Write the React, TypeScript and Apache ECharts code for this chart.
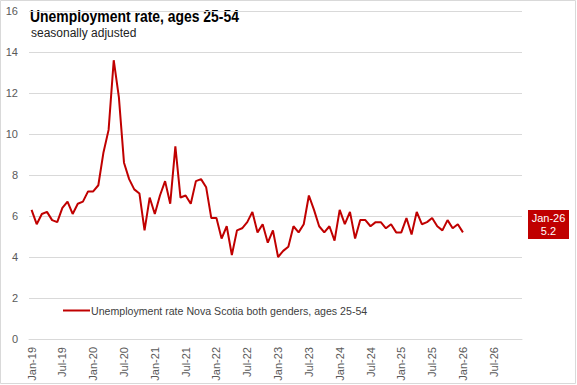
import React, { useEffect, useRef } from "react";
import * as echarts from "echarts";

const years = ["19", "20", "21", "22", "23", "24", "25", "26"];
const monthNames = ["Jan", "Feb", "Mar", "Apr", "May", "Jun", "Jul", "Aug", "Sep", "Oct", "Nov", "Dec"];
const categories: string[] = [];
years.forEach((y) => monthNames.forEach((m) => categories.push(`${m}-${y}`)));

const seriesName = "Unemployment rate Nova Scotia both genders, ages 25-54";
const unemploymentRate = [
  6.3, 5.6, 6.1, 6.2, 5.8, 5.7, 6.4, 6.7, 6.1, 6.6, 6.7, 7.2,
  7.2, 7.5, 9.1, 10.2, 13.6, 11.8, 8.6, 7.8, 7.3, 7.1, 5.3, 6.9,
  6.1, 7.0, 7.7, 6.6, 9.4, 6.9, 7.0, 6.6, 7.7, 7.8, 7.4, 5.9,
  5.9, 4.9, 5.5, 4.1, 5.3, 5.4, 5.7, 6.2, 5.2, 5.6, 4.7, 5.3,
  4.0, 4.3, 4.5, 5.5, 5.2, 5.6, 7.0, 6.3, 5.5, 5.2, 5.5, 4.8,
  6.3, 5.6, 6.2, 4.9, 5.8, 5.8, 5.5, 5.7, 5.7, 5.4, 5.6, 5.2,
  5.2, 5.9, 5.1, 6.2, 5.6, 5.7, 5.9, 5.5, 5.3, 5.8, 5.4, 5.6,
  5.2,
];

const titleText = "Unemployment rate, ages 25-54";
const subtitleText = "seasonally adjusted";
const lastLabel = categories[unemploymentRate.length - 1];
const lastValue = unemploymentRate[unemploymentRate.length - 1].toFixed(1);

export default function App() {
  const ref = useRef<HTMLDivElement>(null);
  useEffect(() => {
    if (!ref.current) return;
    const chart = echarts.init(ref.current, null, { renderer: "svg" });
    chart.setOption({
      animation: false,
      backgroundColor: "#ffffff",
      grid: { left: 29, right: 55, top: 11, bottom: 46, containLabel: false },
      xAxis: {
        type: "category",
        data: categories,
        boundaryGap: true,
        axisTick: { show: false },
        axisLine: { lineStyle: { color: "#d9d9d9", width: 1 } },
        axisLabel: {
          interval: 5,
          rotate: 90,
          fontSize: 11,
          color: "#595959",
          fontFamily: "Liberation Sans, Arial, sans-serif",
          margin: 8,
        },
        splitLine: { show: false },
      },
      yAxis: {
        type: "value",
        min: 0,
        max: 16,
        interval: 2,
        axisLine: { show: false },
        axisTick: { show: false },
        axisLabel: {
          fontSize: 11,
          color: "#595959",
          fontFamily: "Liberation Sans, Arial, sans-serif",
          margin: 11,
        },
        splitLine: { lineStyle: { color: "#d9d9d9", width: 1 } },
      },
      legend: {
        left: 58,
        top: 300,
        icon: "rect",
        itemWidth: 27,
        itemHeight: 2,
        itemGap: 10,
        textStyle: {
          fontSize: 10.6,
          color: "#404040",
          fontFamily: "Liberation Sans, Arial, sans-serif",
          padding: [0, 0, 0, -4],
        },
        data: [seriesName],
      },
      series: [
        {
          name: seriesName,
          type: "line",
          data: unemploymentRate,
          symbol: "none",
          lineStyle: { color: "#C00000", width: 2 },
          itemStyle: { color: "#C00000" },
        },
      ],
      graphic: [
        {
          type: "rect",
          shape: { x: 0.5, y: 0.5, width: 575, height: 383 },
          style: { fill: "none", stroke: "#d9d9d9", lineWidth: 1 },
          silent: true,
        },
        {
          type: "text",
          x: 30,
          y: 16,
          scaleX: 0.82,
          style: {
            text: titleText,
            fontSize: 17,
            fontWeight: "bold",
            fontFamily: "Liberation Sans, Arial, sans-serif",
            fill: "#000000",
            textVerticalAlign: "middle",
          },
        },
        {
          type: "text",
          x: 31,
          y: 33,
          style: {
            text: subtitleText,
            fontSize: 12,
            fontFamily: "Liberation Sans, Arial, sans-serif",
            fill: "#222222",
            textVerticalAlign: "middle",
          },
        },
        {
          type: "rect",
          shape: { x: 528, y: 210, width: 41, height: 29 },
          style: { fill: "#C00000" },
        },
        {
          type: "text",
          x: 548.5,
          y: 218,
          style: {
            text: lastLabel,
            fontSize: 11,
            fontFamily: "Liberation Sans, Arial, sans-serif",
            fill: "#ffffff",
            textAlign: "center",
            textVerticalAlign: "middle",
          },
        },
        {
          type: "text",
          x: 548.5,
          y: 231,
          style: {
            text: lastValue,
            fontSize: 11,
            fontFamily: "Liberation Sans, Arial, sans-serif",
            fill: "#ffffff",
            textAlign: "center",
            textVerticalAlign: "middle",
          },
        },
      ],
    });
    return () => chart.dispose();
  }, []);
  return (
    <div
      ref={ref}
      style={{ position: "fixed", left: 0, top: 0, width: 577, height: 385 }}
    />
  );
}
